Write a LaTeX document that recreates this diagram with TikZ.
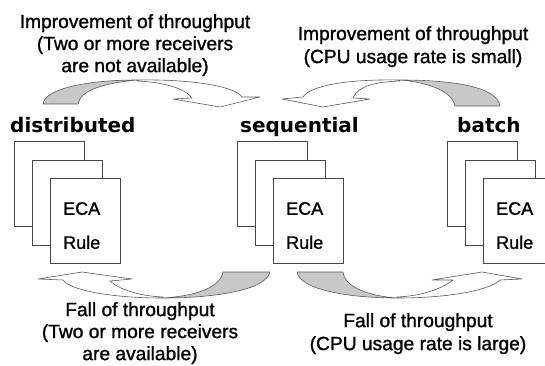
\documentclass[tikz,border=0pt]{standalone}
\usepackage{fontspec}
\setmainfont{Liberation Sans}
\newfontfamily\captfont{Liberation Sans}[FakeBold=1.2]
\newfontfamily\headfont{DejaVu Sans}
\usetikzlibrary{positioning}

\definecolor{boxline}{RGB}{70,70,70}
\definecolor{arrowfill}{RGB}{200,200,200}
\definecolor{arrowline}{RGB}{90,90,90}

\begin{document}
\begin{tikzpicture}[
  x=1pt, y=-1pt,
  capt/.style={align=center, inner sep=0pt, anchor=north, font=\captfont\fontsize{19.2}{22}\selectfont},
  head/.style={inner sep=0pt, anchor=base west, font=\headfont\bfseries\fontsize{20}{24}\selectfont},
  card/.style={draw=boxline, fill=white, minimum width=70pt, minimum height=85pt, inner sep=0pt, anchor=north west},
  ruletext/.style={align=left, inner sep=0pt, anchor=north west, font=\captfont\fontsize{18}{34}\selectfont},
  back/.style={draw=arrowline, fill=arrowfill, line width=0.6pt, line join=round},
  front/.style={draw=arrowline, fill=white, line width=0.6pt, line join=round}
]
\useasboundingbox (0,0) rectangle (545,366);

% captions
\node[capt] (upleft) at (135,14) {Improvement of throughput\\(Two or more receivers\\are not available)};
\node[capt, font=\captfont\fontsize{19.2}{23}\selectfont] (upright) at (413,26) {Improvement of throughput\\(CPU usage rate is small)};
\node[capt] (downleft) at (140,302) {Fall of throughput\\(Two or more receivers\\are available)};
\node[capt, font=\captfont\fontsize{19.2}{23}\selectfont] (downright) at (418,313) {Fall of throughput\\(CPU usage rate is large)};

% modes
\node[head] (distributed) at (10,133) {distributed};
\node[head] (sequential) at (240,133) {sequential};
\node[head] (batch) at (457,133) {batch};

% stacks of rules
\node[card] (dist1) at (14,141) {};
\node[card] (dist2) at ([xshift=18pt,yshift=-19pt]dist1.north west) {};
\node[card] (dist3) at ([xshift=18pt,yshift=-18pt]dist2.north west) {};
\node[ruletext] (distrule) at ([xshift=13pt,yshift=-24pt]dist3.north west) {ECA\\Rule};

\node[card] (seq1) at (237,141) {};
\node[card] (seq2) at ([xshift=18pt,yshift=-19pt]seq1.north west) {};
\node[card] (seq3) at ([xshift=18pt,yshift=-18pt]seq2.north west) {};
\node[ruletext] (seqrule) at ([xshift=13pt,yshift=-24pt]seq3.north west) {ECA\\Rule};

\node[card] (batch1) at (447,141) {};
\node[card] (batch2) at ([xshift=18pt,yshift=-19pt]batch1.north west) {};
\node[card] (batch3) at ([xshift=18pt,yshift=-18pt]batch2.north west) {};
\node[ruletext] (batchrule) at ([xshift=13pt,yshift=-24pt]batch3.north west) {ECA\\Rule};

% distributed -> sequential
\draw[back] (43,104) .. controls (45,88) and (90,80) .. (137,80)
  .. controls (105,83) and (80,90) .. (78,104) -- cycle;
\draw[front] (137,80) .. controls (190,79) and (235,86) .. (242,97) -- (260,97) -- (220,107)
  -- (173,99) -- (192,98) .. controls (185,88) and (162,82) .. (137,81) -- cycle;

% batch -> sequential
\draw[back] (500,106) .. controls (497,86) and (450,80) .. (400,80)
  .. controls (425,82) and (452,90) .. (455,106) -- cycle;
\draw[front] (400,80) .. controls (345,79) and (310,86) .. (303,97) -- (282,99) -- (323,107)
  -- (370,99) -- (353,98) .. controls (358,86) and (375,82) .. (400,81) -- cycle;

% sequential -> distributed
\draw[back] (270,272) .. controls (266,290) and (215,298) .. (163,298)
  .. controls (195,296) and (220,288) .. (223,272) -- cycle;
\draw[front] (163,298) .. controls (110,298) and (70,290) .. (63,280) -- (38,279) -- (82,272)
  -- (132,279) -- (110,281) .. controls (120,290) and (140,296) .. (163,297) -- cycle;

% sequential -> batch
\draw[back] (297,272) .. controls (300,290) and (350,298) .. (397,298)
  .. controls (370,296) and (345,288) .. (343,272) -- cycle;
\draw[front] (397,298) .. controls (450,298) and (490,290) .. (500,280) -- (522,279) -- (482,272)
  -- (432,280) -- (453,280) .. controls (440,290) and (420,296) .. (397,297) -- cycle;
\end{tikzpicture}
\end{document}
